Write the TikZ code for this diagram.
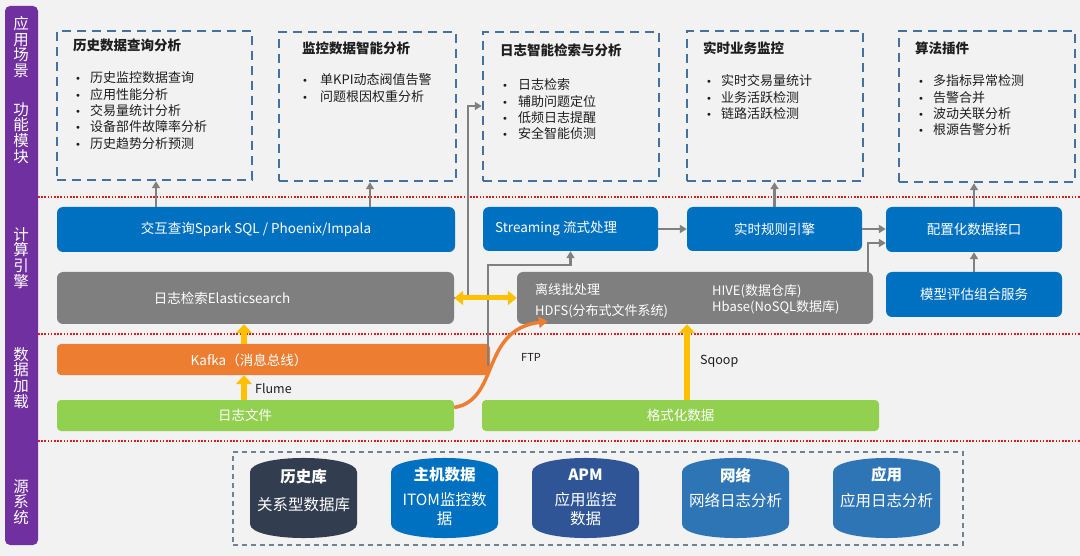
\documentclass[tikz,border=0pt]{standalone}
\usepackage{fontspec}
\newfontfamily\cjk{Noto Sans CJK SC}
\newfontfamily\dv{DejaVu Sans}
\usetikzlibrary{arrows.meta,calc}
\definecolor{bg}{RGB}{242,242,242}
\definecolor{purp}{RGB}{112,48,160}
\definecolor{dashblue}{RGB}{68,114,160}
\definecolor{boxblue}{RGB}{0,112,192}
\definecolor{boxgray}{RGB}{127,127,127}
\definecolor{kafkac}{RGB}{237,125,49}
\definecolor{grn}{RGB}{146,208,80}
\definecolor{ylw}{RGB}{255,192,0}
\definecolor{arrgray}{RGB}{128,128,128}
\definecolor{redd}{RGB}{222,30,30}
\definecolor{cylA}{RGB}{50,62,79}
\definecolor{cylB}{RGB}{0,112,192}
\definecolor{cylC}{RGB}{47,85,151}
\definecolor{cylD}{RGB}{46,117,182}
\definecolor{srcdash}{RGB}{110,130,150}
\definecolor{txt}{RGB}{30,30,30}
\newcommand{\mydrum}[2]{%
  \fill[#2] (#1,472) .. controls (#1,453.3) and (#1+107,453.3) .. (#1+107,472)
    -- (#1+107,524) .. controls (#1+107,542.7) and (#1,542.7) .. (#1,524) -- cycle;}
\newcommand{\bul}[1]{\makebox[#1][l]{{\dv\fontsize{10}{12}\selectfont •}}}
\begin{document}
\begin{tikzpicture}[x=1pt,y=-1pt,
  every node/.style={font=\cjk, inner sep=0pt},
  fsb/.style={font=\cjk\fontsize{13.5}{16}\selectfont},
  ttl/.style={anchor=west, font=\cjk\bfseries\fontsize{13.5}{16}\selectfont, text=txt},
  item/.style={anchor=west, font=\cjk\fontsize{13}{16}\selectfont, text=txt},
  dbox/.style={draw=dashblue, line width=2.5, dash pattern=on 9pt off 6pt},
  bbox/.style={fill=boxblue, rounded corners=6pt, text=white, font=\cjk\fontsize{13.5}{16}\selectfont},
  gbox/.style={fill=boxgray, rounded corners=6pt, text=white, font=\cjk\fontsize{13.5}{16}\selectfont},
  obox/.style={fill=kafkac, rounded corners=4pt, text=white, font=\cjk\fontsize{13.5}{16}\selectfont},
  lbox/.style={fill=grn, rounded corners=4pt, text=white, font=\cjk\fontsize{13.5}{16}\selectfont},
  garrow/.style={draw=arrgray, line width=2.5, -{Triangle[length=7pt,width=8pt]}},
  yarrow/.style={draw=ylw, line width=6, -{Triangle[length=9pt,width=16pt]}},
  ydouble/.style={draw=ylw, line width=5, {Triangle[length=9pt,width=14pt]}-{Triangle[length=9pt,width=14pt]}},
  oarrow/.style={draw=kafkac, line width=3.5, -{Triangle[length=9pt,width=11pt]}},
  redline/.style={draw=redd, line width=2.2, dash pattern=on 1.6pt off 1.6pt},
  vtext/.style={align=center, text=white, font=\cjk\fontsize{15.5}{15.8}\selectfont},
  cyltitle/.style={text=white, font=\cjk\bfseries\fontsize{15.5}{18}\selectfont},
  cylsub/.style={text=white, align=center, font=\cjk\fontsize{15.5}{19}\selectfont},
  lbl/.style={anchor=west, text=txt, font=\cjk\fontsize{12.5}{15}\selectfont}
]
\useasboundingbox (0,0) rectangle (1080,556);
\fill[bg] (0,0) rectangle (1080,556);

% left purple bar
\fill[purp, rounded corners=5pt] (5,6) rectangle (38,545);
\node[vtext] (v1) at (21,47) {应\\用\\场\\景};
\node[vtext] (v2) at (21,133) {功\\能\\模\\块};
\node[vtext] (v3) at (21,258) {计\\算\\引\\擎};
\node[vtext] (v4) at (21,378) {数\\据\\加\\载};
\node[vtext] (v5) at (21,502) {源\\系\\统};

% red dotted separators
\draw[redline] (38,197) -- (1080,197);
\draw[redline] (38,334) -- (1080,334);
\draw[redline] (38,441) -- (1080,441);

% top dashed boxes
\node[dbox, minimum width=195, minimum height=149] (b1) at (154.5,105.5) {};
\node[dbox, minimum width=177, minimum height=149] (b2) at (367.5,106.5) {};
\node[dbox, minimum width=176, minimum height=149] (b3) at (571,106.5) {};
\node[dbox, minimum width=176, minimum height=150] (b4) at (775,106) {};
\node[dbox, minimum width=176, minimum height=151] (b5) at (987,106.5) {};

\node[ttl] (t1) at (73,45) {历史数据查询分析};
\node[ttl] (t2) at (302,48) {监控数据智能分析};
\node[ttl] (t3) at (500,50) {日志智能检索与分析};
\node[ttl] (t4) at (703,48) {实时业务监控};
\node[ttl] (t5) at (915,48) {算法插件};

\foreach \t [count=\i] in {历史监控数据查询,应用性能分析,交易量统计分析,设备部件故障率分析,历史趋势分析预测}
  \node[item] (b1i\i) at (75,{78+16.3*(\i-1)}) {\bul{15pt}\t};
\foreach \t [count=\i] in {单KPI动态阀值告警,问题根因权重分析}
  \node[item] (b2i\i) at (302,{80+16.5*(\i-1)}) {\bul{18pt}\t};
\foreach \t [count=\i] in {日志检索,辅助问题定位,低频日志提醒,安全智能侦测}
  \node[item] (b3i\i) at (502,{85+16.2*(\i-1)}) {\bul{16pt}\t};
\foreach \t [count=\i] in {实时交易量统计,业务活跃检测,链路活跃检测}
  \node[item] (b4i\i) at (706,{81+16.5*(\i-1)}) {\bul{15pt}\t};
\foreach \t [count=\i] in {多指标异常检测,告警合并,波动关联分析,根源告警分析}
  \node[item] (b5i\i) at (918,{81+16.3*(\i-1)}) {\bul{15pt}\t};

% compute layer
\node[bbox, minimum width=398, minimum height=45] (spark) at (256,229.5) {交互查询Spark SQL / Phoenix/Impala};
\node[bbox, minimum width=175, minimum height=44] (stream) at (570.5,229) {};
\node[fsb, anchor=west, text=white] (streamt) at (495,229) {Streaming 流式处理};
\node[bbox, minimum width=175, minimum height=44] (rule) at (774.5,229) {实时规则引擎};
\node[bbox, minimum width=176, minimum height=45] (config) at (974,229.5) {配置化数据接口};
\node[gbox, minimum width=397, minimum height=52] (elastic) at (255.5,298) {};
\node[fsb, text=white] (elastict) at (222,298) {日志检索Elasticsearch};
\node[gbox, minimum width=356, minimum height=52] (offline) at (695,298) {};
\node[anchor=west, text=white, font=\cjk\fontsize{13}{16}\selectfont] (off1) at (535,290) {离线批处理};
\node[anchor=west, text=white, font=\cjk\fontsize{13}{16}\selectfont] (off2) at (535,311) {HDFS(分布式文件系统)};
\node[anchor=west, text=white, font=\cjk\fontsize{13}{16}\selectfont] (off3) at (712,291) {HIVE(数据仓库)};
\node[anchor=west, text=white, font=\cjk\fontsize{13}{16}\selectfont] (off4) at (712,307) {Hbase(NoSQL数据库)};
\node[bbox, minimum width=176, minimum height=45] (model) at (974,294.5) {模型评估组合服务};

% data loading layer
\node[obox, minimum width=433, minimum height=31] (kafka) at (273.5,359.5) {};
\node[fsb, text=white] (kafkat) at (249,360) {Kafka（消息总线）};
\node[lbox, minimum width=397, minimum height=31] (logfile) at (255.5,415.5) {};
\node[fsb, text=white] (logfilet) at (245,415.5) {日志文件};
\node[lbox, minimum width=397, minimum height=31] (fmt) at (680.5,415.5) {格式化数据};

% helper coordinates
\coordinate (a1) at (156,0);
\coordinate (a2) at (370,0);
\coordinate (k1) at (468,106);
\coordinate (k2) at (488,265);
\coordinate (k3) at (868,243);
\coordinate (k4) at (244,0);
\coordinate (k5) at (687,0);

% gray connectors
\draw[garrow] (spark.north -| a1) -- (b1.south -| a1);
\draw[garrow] (spark.north -| a2) -- (b2.south -| a2);
\draw[garrow] (elastic.east) -| (k1) -- (b3.west |- k1);
\draw[garrow] ($(kafka.east -| k2)+(0,6)$) -- (k2) -| (stream.south);
\draw[garrow] (stream.east) -- (rule.west);
\draw[garrow] (rule.east) -- (rule.east -| config.west);
\draw[garrow] (offline.north -| k3) -- (k3) -- (k3 -| config.west);
\draw[garrow] (model.north) -- (config.south);
\draw[garrow] (config.north) -- (config.north |- b5.south);
\draw[garrow] (rule.north) -- (rule.north |- b4.south);

% yellow connectors
\draw[yarrow] (kafka.north -| k4) -- (elastic.south -| k4);
\draw[yarrow] (logfile.north -| k4) -- (kafka.south -| k4);
\draw[yarrow] (fmt.north -| k5) -- (offline.south -| k5);
\draw[ydouble] (elastic.east) -- (offline.west);
\draw[oarrow] ($(logfile.east)+(0,-8)$) .. controls (500,400) and (480,330) .. ($(offline.south west)+(31,-3)$);

\node[lbl] (flume) at (255,389) {Flume};
\node[lbl, font=\cjk\fontsize{11}{13}\selectfont] (ftp) at (521,357) {FTP};
\node[lbl] (sqoop) at (700,361) {Sqoop};

% source systems
\node[draw=srcdash, line width=1.5, dash pattern=on 5pt off 4pt, minimum width=730, minimum height=93] (src) at (598,498.5) {};
\mydrum{250}{cylA}
\mydrum{391}{cylB}
\mydrum{532}{cylC}
\mydrum{682}{cylD}
\mydrum{833}{cylD}
\node[cyltitle] (c1t) at (303.5,477) {历史库};
\node[cylsub] (c1s) at (303.5,505) {关系型数据库};
\node[cyltitle] (c2t) at (444.5,475) {主机数据};
\node[cylsub] (c2s) at (444.5,509) {ITOM监控数\\据};
\node[cyltitle] (c3t) at (585.5,475) {APM};
\node[cylsub] (c3s) at (585.5,509) {应用监控\\数据};
\node[cyltitle] (c4t) at (735.5,475) {网络};
\node[cylsub] (c4s) at (735.5,501) {网络日志分析};
\node[cyltitle] (c5t) at (886.5,475) {应用};
\node[cylsub] (c5s) at (886.5,501) {应用日志分析};
\end{tikzpicture}
\end{document}
